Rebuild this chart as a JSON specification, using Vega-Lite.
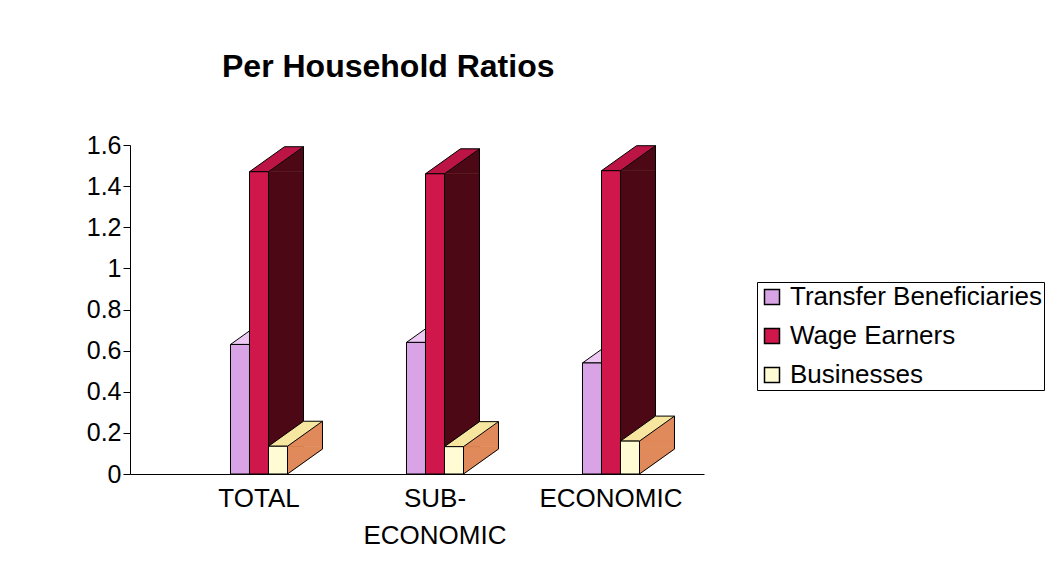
{
  "$schema": "https://vega.github.io/schema/vega-lite/v6.json",
  "autosize": {"type": "none"},
  "width": 574,
  "height": 329,
  "padding": {"left": 130, "top": 145, "right": 341, "bottom": 97},
  "background": "white",
  "config": {"font": "Liberation Sans", "view": {"stroke": null}},
  "title": {
    "text": "Per Household Ratios",
    "anchor": "start",
    "frame": "group",
    "dx": 92,
    "offset": 49,
    "fontSize": 32,
    "fontWeight": "bold",
    "font": "Liberation Sans",
    "color": "black"
  },
  "data": {
    "values": [
      {"cat": "TOTAL", "series": "Transfer Beneficiaries", "value": 0.63},
      {"cat": "TOTAL", "series": "Wage Earners", "value": 1.47},
      {"cat": "TOTAL", "series": "Businesses", "value": 0.135},
      {"cat": "SUB-ECONOMIC", "series": "Transfer Beneficiaries", "value": 0.64},
      {"cat": "SUB-ECONOMIC", "series": "Wage Earners", "value": 1.46},
      {"cat": "SUB-ECONOMIC", "series": "Businesses", "value": 0.133},
      {"cat": "ECONOMIC", "series": "Transfer Beneficiaries", "value": 0.54},
      {"cat": "ECONOMIC", "series": "Wage Earners", "value": 1.475},
      {"cat": "ECONOMIC", "series": "Businesses", "value": 0.16}
    ]
  },
  "encoding": {
    "x": {
      "field": "cat",
      "type": "nominal",
      "sort": ["TOTAL", "SUB-ECONOMIC", "ECONOMIC"],
      "scale": {"paddingInner": 0, "paddingOuter": 0.1307, "align": 0.891},
      "axis": {
        "title": null,
        "labelAngle": 0,
        "ticks": false,
        "domainColor": "black",
        "domainWidth": 1,
        "labelFontSize": 26,
        "labelColor": "black",
        "labelPadding": 11,
        "labelBaseline": "top",
        "labelLineHeight": 37,
        "labelOverlap": false,
        "labelExpr": "datum.value == 'SUB-ECONOMIC' ? ['SUB-', 'ECONOMIC'] : datum.label"
      }
    },
    "y": {
      "field": "value",
      "type": "quantitative",
      "stack": null,
      "scale": {"domain": [0, 1.6]},
      "axis": {
        "title": null,
        "grid": false,
        "values": [0, 0.2, 0.4, 0.6, 0.8, 1, 1.2, 1.4, 1.6],
        "format": "~g",
        "domainColor": "black",
        "tickColor": "black",
        "tickSize": 7,
        "labelFontSize": 25,
        "labelColor": "black",
        "labelPadding": 2
      }
    }
  },
  "layer": [
    {"transform": [{"filter": "datum.series == 'Transfer Beneficiaries'"}],
     "mark": {"type": "bar", "width": 35, "xOffset": 8, "y2Offset": -25, "fill": "#a877bb", "stroke": "#a877bb", "strokeWidth": 0.5},
     "encoding": {"y2": {"datum": 0}}},
    {"transform": [{"filter": "datum.series == 'Transfer Beneficiaries'"}],
     "mark": {"type": "point", "shape": "M9.5,0L44.5,-25L44.5,0Z", "size": 4, "xOffset": -19, "filled": true, "opacity": 1, "fill": "#a877bb", "stroke": "#a877bb", "strokeWidth": 0.5}},
    {"transform": [{"filter": "datum.series == 'Transfer Beneficiaries'"}],
     "mark": {"type": "point", "shape": "M9.5,0L44.5,-25L9.5,-25Z", "size": 4, "xOffset": -19, "filled": true, "opacity": 1, "fill": "#a877bb", "stroke": "#a877bb", "strokeWidth": 0.5},
     "encoding": {"y": {"datum": 0}}},
    {"transform": [{"filter": "datum.series == 'Transfer Beneficiaries'"}],
     "mark": {"type": "point", "shape": "M-9.5,0L9.5,0L44.5,-25L25.5,-25Z", "size": 4, "xOffset": -19, "filled": true, "opacity": 1, "fill": "#ecc8f2", "stroke": "black", "strokeWidth": 1}},
    {"transform": [{"filter": "datum.series == 'Transfer Beneficiaries'"}],
     "mark": {"type": "bar", "width": 19, "xOffset": -19, "stroke": "black", "strokeWidth": 1},
     "encoding": {
       "color": {
         "field": "series", "type": "nominal",
         "scale": {"domain": ["Transfer Beneficiaries", "Wage Earners", "Businesses"], "range": ["#d9a4e6", "#d0174c", "#fffbd2"]},
         "legend": {"title": null, "orient": "none", "legendX": 627, "legendY": 137, "symbolType": "square", "symbolSize": 225, "symbolStrokeColor": "black", "symbolStrokeWidth": 1.5, "labelFontSize": 26, "labelColor": "black", "labelOffset": 5, "rowPadding": 13, "padding": 2, "strokeColor": "black", "fillColor": "white", "labelLimit": 400}
       }
     }},

    {"transform": [{"filter": "datum.series == 'Wage Earners'"}],
     "mark": {"type": "bar", "width": 35, "xOffset": 27, "y2Offset": -25, "fill": "#4c0814", "stroke": "#4c0814", "strokeWidth": 0.5},
     "encoding": {"y2": {"datum": 0}}},
    {"transform": [{"filter": "datum.series == 'Wage Earners'"}],
     "mark": {"type": "point", "shape": "M9.5,0L44.5,-25L44.5,0Z", "size": 4, "xOffset": 0, "filled": true, "opacity": 1, "fill": "#4c0814", "stroke": "#4c0814", "strokeWidth": 0.5}},
    {"transform": [{"filter": "datum.series == 'Wage Earners'"}],
     "mark": {"type": "point", "shape": "M9.5,0L44.5,-25L9.5,-25Z", "size": 4, "xOffset": 0, "filled": true, "opacity": 1, "fill": "#4c0814", "stroke": "#4c0814", "strokeWidth": 0.5},
     "encoding": {"y": {"datum": 0}}},
    {"transform": [{"filter": "datum.series == 'Wage Earners'"}],
     "mark": {"type": "rule", "xOffset": 44.5, "yOffset": -25, "y2Offset": -25, "stroke": "black", "strokeWidth": 1},
     "encoding": {"y2": {"datum": 0}}},
    {"transform": [{"filter": "datum.series == 'Wage Earners'"}],
     "mark": {"type": "point", "shape": "M-9.5,0L9.5,0L44.5,-25L25.5,-25Z", "size": 4, "xOffset": 0, "filled": true, "opacity": 1, "fill": "#bb1445", "stroke": "black", "strokeWidth": 1}},
    {"transform": [{"filter": "datum.series == 'Wage Earners'"}],
     "mark": {"type": "bar", "width": 19, "xOffset": 0, "stroke": "black", "strokeWidth": 1},
     "encoding": {
       "color": {
         "field": "series", "type": "nominal",
         "scale": {"domain": ["Transfer Beneficiaries", "Wage Earners", "Businesses"], "range": ["#d9a4e6", "#d0174c", "#fffbd2"]},
         "legend": {"title": null, "orient": "none", "legendX": 627, "legendY": 137, "symbolType": "square", "symbolSize": 225, "symbolStrokeColor": "black", "symbolStrokeWidth": 1.5, "labelFontSize": 26, "labelColor": "black", "labelOffset": 5, "rowPadding": 13, "padding": 2, "strokeColor": "black", "fillColor": "white", "labelLimit": 400}
       }
     }},

    {"transform": [{"filter": "datum.series == 'Businesses'"}],
     "mark": {"type": "bar", "width": 35, "xOffset": 46, "y2Offset": -25, "fill": "#e0895a", "stroke": "#e0895a", "strokeWidth": 0.5},
     "encoding": {"y2": {"datum": 0}}},
    {"transform": [{"filter": "datum.series == 'Businesses'"}],
     "mark": {"type": "point", "shape": "M9.5,0L44.5,-25L44.5,0Z", "size": 4, "xOffset": 19, "filled": true, "opacity": 1, "fill": "#e0895a", "stroke": "#e0895a", "strokeWidth": 0.5}},
    {"transform": [{"filter": "datum.series == 'Businesses'"}],
     "mark": {"type": "point", "shape": "M9.5,0L44.5,-25L9.5,-25Z", "size": 4, "xOffset": 19, "filled": true, "opacity": 1, "fill": "#e0895a", "stroke": "#e0895a", "strokeWidth": 0.5},
     "encoding": {"y": {"datum": 0}}},
    {"transform": [{"filter": "datum.series == 'Businesses'"}],
     "mark": {"type": "point", "shape": "M9.5,0L44.5,-25", "size": 4, "xOffset": 19, "filled": false, "opacity": 1, "stroke": "black", "strokeWidth": 1},
     "encoding": {"y": {"datum": 0}}},
    {"transform": [{"filter": "datum.series == 'Businesses'"}],
     "mark": {"type": "rule", "xOffset": 63.5, "yOffset": -25, "y2Offset": -25, "stroke": "black", "strokeWidth": 1},
     "encoding": {"y2": {"datum": 0}}},
    {"transform": [{"filter": "datum.series == 'Businesses'"}],
     "mark": {"type": "point", "shape": "M-9.5,0L9.5,0L44.5,-25L25.5,-25Z", "size": 4, "xOffset": 19, "filled": true, "opacity": 1, "fill": "#f6e6a0", "stroke": "black", "strokeWidth": 1}},
    {"transform": [{"filter": "datum.series == 'Businesses'"}],
     "mark": {"type": "bar", "width": 19, "xOffset": 19, "stroke": "black", "strokeWidth": 1},
     "encoding": {
       "color": {
         "field": "series", "type": "nominal",
         "scale": {"domain": ["Transfer Beneficiaries", "Wage Earners", "Businesses"], "range": ["#d9a4e6", "#d0174c", "#fffbd2"]},
         "legend": {"title": null, "orient": "none", "legendX": 627, "legendY": 137, "symbolType": "square", "symbolSize": 225, "symbolStrokeColor": "black", "symbolStrokeWidth": 1.5, "labelFontSize": 26, "labelColor": "black", "labelOffset": 5, "rowPadding": 13, "padding": 2, "strokeColor": "black", "fillColor": "white", "labelLimit": 400}
       }
     }}
  ]
}
